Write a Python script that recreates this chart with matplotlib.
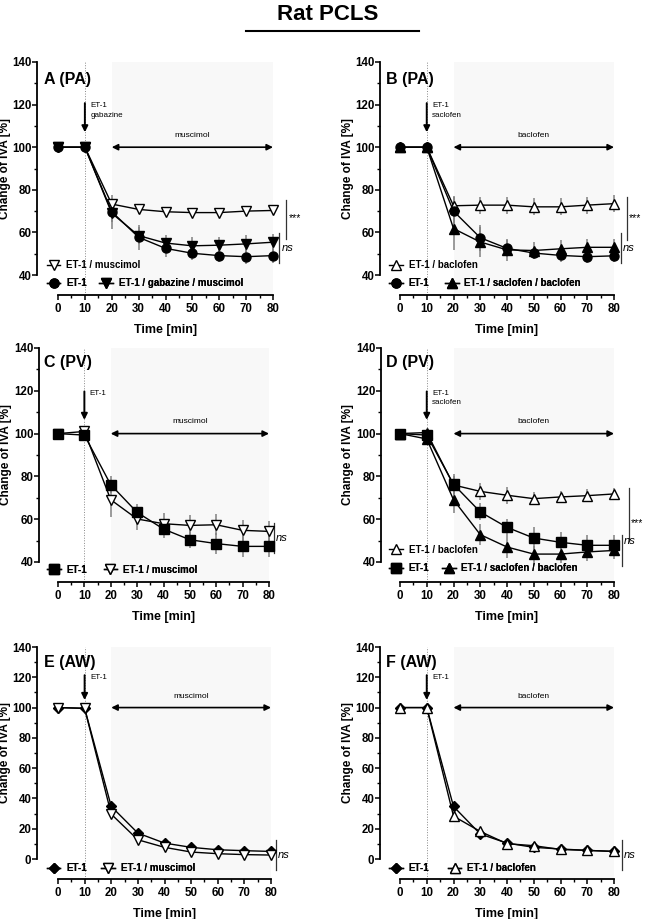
import matplotlib
matplotlib.use("Agg")
import matplotlib.pyplot as plt
from matplotlib.lines import Line2D
from matplotlib.ticker import MultipleLocator

plt.rcParams['font.family'] = ['Liberation Sans', 'DejaVu Sans']
plt.rcParams['font.weight'] = 'bold'
plt.rcParams['axes.labelweight'] = 'bold'

W, H = 646, 919

time = [0, 10, 20, 30, 40, 50, 60, 70, 80]
xticks = [0, 10, 20, 30, 40, 50, 60, 70, 80]

# Panel A (PA)
A_et1_musc = [100, 100, 73.3, 70.8, 69.7, 69.3, 69.3, 70.0, 70.3]
A_et1_musc_err = [0, 0, 2, 2, 2, 1.5, 1.5, 1.5, 1.5]
A_et1 = [100, 100, 69.7, 57.7, 52.5, 50.2, 49.1, 48.6, 49.1]
A_et1_err = [0, 0, 8, 6, 4, 3, 3, 3.5, 3.5]
A_et1_gab_musc = [100, 100, 69.0, 58.5, 55.0, 53.7, 54.0, 54.6, 55.4]
A_et1_gab_musc_err = [0, 0, 4, 4, 4, 4, 4, 4, 4]

# Panel B (PA)
B_et1_bac = [100, 100, 72.5, 72.8, 72.8, 72.0, 72.0, 72.8, 73.5]
B_et1_bac_err = [0, 0, 4, 4, 4, 4, 4, 4, 4]
B_et1 = [100, 100, 70.0, 57.5, 52.5, 50.3, 49.2, 48.6, 49.0]
B_et1_err = [0, 0, 7, 6, 4, 3, 3, 3, 3]
B_et1_sac_bac = [100, 100, 61.8, 55.5, 51.8, 51.5, 52.3, 53.0, 53.0]
B_et1_sac_bac_err = [0, 0, 10, 7, 5, 4, 4, 4, 4]

# Panel C (PV)
C_et1 = [100, 99.3, 76.1, 63.2, 55.4, 50.4, 48.6, 47.3, 47.3]
C_et1_err = [0, 0, 4, 4, 4, 4, 5, 5, 5]
C_et1_musc = [100, 101, 69.1, 60.1, 57.9, 57.1, 57.4, 54.8, 54.3]
C_et1_musc_err = [0, 0, 8, 5, 5, 5, 5, 5, 5]

# Panel D (PV)
D_et1_bac = [100, 100.5, 76.0, 73.0, 71.2, 69.6, 70.4, 71.0, 71.8]
D_et1_bac_err = [0, 0, 4, 4, 4, 3, 3, 3, 3]
D_et1 = [100, 99.3, 76.3, 63.4, 56.2, 51.2, 49.2, 47.8, 47.8]
D_et1_err = [0, 0, 5, 4, 4, 5, 5, 5, 5]
D_et1_sac_bac = [100, 97.5, 69.1, 52.8, 47.0, 43.7, 43.7, 44.7, 45.4]
D_et1_sac_bac_err = [0, 0, 6, 5, 5, 4, 4, 4, 4]

# Panel E (AW)
E_et1 = [100, 99.5, 34.7, 17.1, 10.5, 7.7, 6.1, 5.5, 5.0]
E_et1_err = [0, 0, 3, 2, 1.5, 1, 1, 1, 1]
E_et1_musc = [100, 99.5, 29.6, 12.7, 7.7, 4.6, 3.5, 2.9, 2.6]
E_et1_musc_err = [0, 0, 2, 2, 1.5, 1, 1, 1, 1]

# Panel F (AW)
F_et1 = [100, 100, 34.7, 16.5, 10.5, 7.7, 6.6, 5.7, 5.0]
F_et1_err = [0, 0, 3, 2, 1.5, 1, 1, 1, 1]
F_et1_bac = [100, 100, 28.3, 18.2, 10.1, 8.8, 6.3, 5.7, 5.0]
F_et1_bac_err = [0, 0, 2, 2, 1.5, 1, 1, 1, 1]

fig = plt.figure(figsize=(W / 100, H / 100), dpi=100)

fig.text(328 / W, 1 - 15 / H, 'Rat PCLS', ha='center', va='center',
         fontsize=16, fontweight='bold')
fig.add_artist(Line2D([246 / W, 419 / W], [1 - 31 / H, 1 - 31 / H],
                      color='black', lw=1.5))


def make_axes(x0, x1, ytop, ybot, ymin, ymax, yoff_px, ylab_px):
    ax = fig.add_axes([x0 / W, 1 - ybot / H, (x1 - x0) / W, (ybot - ytop) / H])
    ax.set_xlim(0, 80)
    ax.set_ylim(ymin, ymax)
    for s in ['top', 'right']:
        ax.spines[s].set_visible(False)
    ax.spines['left'].set_position(('outward', yoff_px * 0.72))
    ax.spines['bottom'].set_position(('outward', 20 * 0.72))
    ax.spines['left'].set_bounds(ymin, ymax)
    ax.spines['bottom'].set_bounds(0, 80)
    for s in ['left', 'bottom']:
        ax.spines[s].set_linewidth(1.3)
    ax.set_xticks(xticks)
    ax.xaxis.set_minor_locator(MultipleLocator(5))
    ax.yaxis.set_major_locator(MultipleLocator(20))
    ax.yaxis.set_minor_locator(MultipleLocator(10))
    ax.tick_params(which='major', direction='out', length=3.5, width=1.1,
                   labelsize=8.3)
    ax.tick_params(axis='y', which='major', pad=0.6)
    ax.tick_params(axis='x', which='major', pad=2)
    ax.tick_params(which='minor', direction='out', length=2, width=1.0)
    ax.set_xlabel('Time [min]', fontsize=9, labelpad=7)
    ax.set_ylabel('Change of IVA [%]', fontsize=8.5)
    ax.yaxis.set_label_coords((ylab_px - x0) / (x1 - x0), 0.5)
    ax.patch.set_visible(False)
    frac = 20 / (ybot - ytop)
    ax.axvspan(20, 80, ymin=-frac, ymax=1, facecolor='#f8f8f8', lw=0,
               zorder=0, clip_on=False)
    ax.axvline(10, ymin=-frac, ymax=1, color='#888888', lw=0.7, ls=':',
               zorder=1, clip_on=False)
    return ax


def series(ax, y, err, marker, filled, ms):
    ax.errorbar(time, y, yerr=err, fmt='none', ecolor='#808080', elinewidth=1.1,
                capsize=0, zorder=2, clip_on=False)
    ln, = ax.plot(time, y, color='black', lw=1.0, marker=marker, ms=ms,
                  mfc='black' if filled else 'white', mec='black', mew=1.0,
                  zorder=3, clip_on=False)
    return ln


def legend_row(ax, handles, labels, x, y, colsp):
    leg = ax.legend(handles, labels, loc='center left', bbox_to_anchor=(x, y),
                    bbox_transform=ax.transData, ncol=len(handles), frameon=False,
                    borderpad=0, borderaxespad=0, handlelength=1.4,
                    handletextpad=0.6, columnspacing=colsp,
                    prop={'size': 7, 'weight': 'bold'})
    ax.add_artist(leg)


def decorations(ax, label, label_y, arrow_top, arrow_bot, arrow_text, text_y,
                drug, drug_y, arrow_y):
    ax.text(-5.2, label_y, label, fontsize=11.5, fontweight='bold',
            ha='left', va='center')
    ax.annotate('', xy=(10, arrow_bot), xytext=(10, arrow_top),
                arrowprops=dict(arrowstyle='-|>', color='black', lw=1.4,
                                mutation_scale=9, shrinkA=0, shrinkB=0))
    ax.text(12, text_y, arrow_text, fontsize=5.8, fontweight='normal',
            ha='left', va='top', linespacing=1.5)
    ax.annotate('', xy=(80, arrow_y), xytext=(20, arrow_y),
                arrowprops=dict(arrowstyle='<|-|>', color='black', lw=1.2,
                                mutation_scale=9, shrinkA=0, shrinkB=0))
    ax.text(50, drug_y, drug, fontsize=6, fontweight='normal', ha='center',
            va='center')


def sig(ax, x, y0, y1, txt, ty, italic):
    ax.plot([x, x], [y0, y1], color='#333333', lw=0.9, clip_on=False)
    ax.text(x + 0.8, ty, txt, fontsize=8 if italic else 7.5,
            fontstyle='italic' if italic else 'normal',
            fontweight='normal', ha='left', va='center', clip_on=False)


# ---------- Panel A ----------
axA = make_axes(58, 273, 62, 275, 40, 140, 21, 11.5)
hA1 = series(axA, A_et1_musc, A_et1_musc_err, 'v', False, 7)
hA2 = series(axA, A_et1, A_et1_err, 'o', True, 6.5)
hA3 = series(axA, A_et1_gab_musc, A_et1_gab_musc_err, 'v', True, 7)
decorations(axA, 'A (PA)', 132, 120.7, 107, 'ET-1\ngabazine', 121,
            'muscimol', 105.6, 100)
legend_row(axA, [hA1], ['ET-1 / muscimol'], -4.2, 44.7, 1.3)
legend_row(axA, [hA2, hA3], ['ET-1', 'ET-1 / gabazine / muscimol'], -4.2, 36.2, 1.3)
sig(axA, 85, 57, 75.2, '***', 66.7, False)
sig(axA, 82.3, 45.6, 59.7, 'ns', 52.6, True)

# ---------- Panel B ----------
axB = make_axes(400, 614, 62, 275, 40, 140, 20, 354.5)
hB1 = series(axB, B_et1_bac, B_et1_bac_err, '^', False, 7)
hB2 = series(axB, B_et1, B_et1_err, 'o', True, 6.5)
hB3 = series(axB, B_et1_sac_bac, B_et1_sac_bac_err, '^', True, 7)
decorations(axB, 'B (PA)', 132, 120.7, 107, 'ET-1\nsaclofen', 121,
            'baclofen', 105.6, 100)
legend_row(axB, [hB1], ['ET-1 / baclofen'], -4.0, 44.7, 1.6)
legend_row(axB, [hB2, hB3], ['ET-1', 'ET-1 / saclofen / baclofen'], -4.0, 36.2, 1.6)
sig(axB, 84.9, 56.4, 76.6, '***', 66.5, False)
sig(axB, 82.6, 45.6, 59.7, 'ns', 52.6, True)

# ---------- Panel C ----------
axC = make_axes(58, 269, 348, 562, 40, 140, 19, 12.5)
hC2 = series(axC, C_et1_musc, C_et1_musc_err, 'v', False, 7)
hC1 = series(axC, C_et1, C_et1_err, 's', True, 6.5)
decorations(axC, 'C (PV)', 133, 119.7, 106.4, 'ET-1', 120.5,
            'muscimol', 105.6, 100)
legend_row(axC, [hC1, hC2], ['ET-1', 'ET-1 / muscimol'], -4.2, 36.4, 1.7)
sig(axC, 81.8, 44.2, 58.4, 'ns', 51.4, True)

# ---------- Panel D ----------
axD = make_axes(400, 614, 348, 562, 40, 140, 19, 354.5)
hD1 = series(axD, D_et1_bac, D_et1_bac_err, '^', False, 7)
hD2 = series(axD, D_et1, D_et1_err, 's', True, 6.5)
hD3 = series(axD, D_et1_sac_bac, D_et1_sac_bac_err, '^', True, 7)
decorations(axD, 'D (PV)', 133, 119.7, 106.4, 'ET-1\nsaclofen', 120.5,
            'baclofen', 105.6, 100)
legend_row(axD, [hD1], ['ET-1 / baclofen'], -4.0, 45.7, 1.3)
legend_row(axD, [hD2, hD3], ['ET-1', 'ET-1 / saclofen / baclofen'], -4.0, 37.2, 1.3)
sig(axD, 85.6, 49.6, 74.7, '***', 58.4, False)
sig(axD, 83.0, 38.0, 52.7, 'ns', 49.6, True)

# ---------- Panel E ----------
axE = make_axes(58, 271, 647, 859, 0, 140, 21, 11.5)
hE1 = series(axE, E_et1, E_et1_err, 'D', True, 5.5)
hE2 = series(axE, E_et1_musc, E_et1_musc_err, 'v', False, 7)
decorations(axE, 'E (AW)', 129.5, 121.4, 105, 'ET-1', 122,
            'muscimol', 107, 100)
legend_row(axE, [hE1, hE2], ['ET-1', 'ET-1 / muscimol'], -4.2, -5.9, 1.5)
sig(axE, 81.8, -7, 12.7, 'ns', 2.8, True)

# ---------- Panel F ----------
axF = make_axes(400, 614, 647, 859, 0, 140, 20, 354.5)
hF1 = series(axF, F_et1, F_et1_err, 'D', True, 5.5)
hF2 = series(axF, F_et1_bac, F_et1_bac_err, '^', False, 7)
decorations(axF, 'F (AW)', 129.5, 121.4, 105, 'ET-1', 122,
            'baclofen', 107, 100)
legend_row(axF, [hF1, hF2], ['ET-1', 'ET-1 / baclofen'], -4.0, -5.9, 1.9)
sig(axF, 83.0, -7, 12.7, 'ns', 2.8, True)

fig.savefig('out.png', dpi=100)
